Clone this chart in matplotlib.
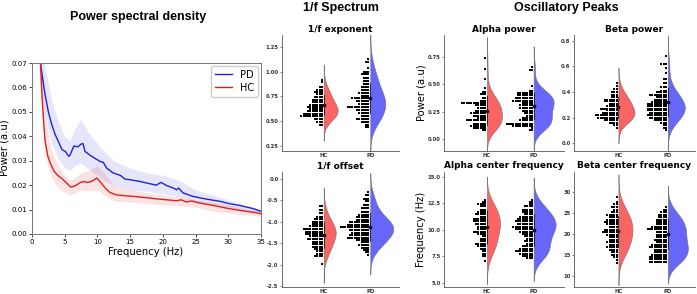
import numpy as np
import matplotlib
matplotlib.use('Agg')
import matplotlib.pyplot as plt

W, H = 697, 294
fig = plt.figure(figsize=(6.97, 2.94), dpi=100)

def px_axes(x0, y0, x1, y1):
    return fig.add_axes([x0 / W, 1 - y1 / H, (x1 - x0) / W, (y1 - y0) / H])

# ---------------- PSD data ----------------
pd_freq = [1.0, 1.2, 1.5, 2.0, 2.5, 3.0, 3.5, 4.0, 4.6, 5.1, 5.6, 5.8, 6.4, 7.0, 7.5, 7.8, 8.1, 8.9,
           9.6, 10.4, 10.9, 11.4, 12.4, 13.5, 14.2, 15.0, 16.5, 18.0, 19.0, 19.7, 20.6, 21.6, 22.1,
           22.4, 23.1, 24.6, 26.6, 28.7, 30.2, 31.7, 33.8, 35.0]
pd_psd = [0.095, 0.072, 0.066, 0.057, 0.050, 0.045, 0.041, 0.038, 0.0345, 0.0338, 0.0318, 0.0322,
          0.0360, 0.0357, 0.0368, 0.0370, 0.0338, 0.0322, 0.0310, 0.0297, 0.0293, 0.0270, 0.0250,
          0.0240, 0.0225, 0.0222, 0.0215, 0.0206, 0.0200, 0.0211, 0.0198, 0.0188, 0.0181, 0.0188,
          0.0168, 0.0154, 0.0143, 0.0134, 0.0124, 0.0117, 0.0104, 0.0093]
hc_freq = [1.0, 1.3, 1.5, 1.8, 2.0, 2.4, 2.8, 3.3, 3.8, 4.6, 5.3, 5.9, 6.6, 7.4, 7.9, 8.4, 9.1, 9.9,
           10.4, 11.2, 11.9, 12.9, 14.5, 15.5, 17.0, 19.0, 20.6, 22.1, 22.8, 23.6, 24.4, 25.6, 27.7,
           29.7, 31.7, 33.8, 35.0]
hc_psd = [0.090, 0.070, 0.058, 0.045, 0.038, 0.032, 0.029, 0.026, 0.0243, 0.0226, 0.0209, 0.0192,
          0.0197, 0.0211, 0.0215, 0.0211, 0.0215, 0.0229, 0.0215, 0.0188, 0.0170, 0.0160, 0.0156,
          0.0154, 0.0150, 0.0144, 0.0140, 0.0136, 0.0140, 0.0131, 0.0135, 0.0127, 0.0117, 0.0106,
          0.0097, 0.0089, 0.0083]
band_freq = [1, 1.5, 2, 3, 4, 5, 5.8, 6.5, 7.5, 8.5, 10, 11, 12.5, 15, 17.5, 20, 22.5, 25, 27.5, 30, 32.5, 35]
pd_upper = [0.10, 0.08, 0.068, 0.055, 0.046, 0.040, 0.038, 0.043, 0.047, 0.042, 0.037, 0.034, 0.030,
            0.027, 0.025, 0.024, 0.022, 0.018, 0.016, 0.014, 0.012, 0.010]
pd_lower = [0.075, 0.058, 0.048, 0.037, 0.031, 0.027, 0.026, 0.028, 0.029, 0.027, 0.024, 0.022, 0.020,
            0.018, 0.0175, 0.0165, 0.015, 0.013, 0.012, 0.011, 0.0095, 0.0085]
hc_upper = [0.09, 0.065, 0.048, 0.034, 0.028, 0.024, 0.022, 0.023, 0.025, 0.026, 0.028, 0.025, 0.020,
            0.018, 0.017, 0.016, 0.015, 0.014, 0.013, 0.012, 0.0105, 0.0093]
hc_lower = [0.07, 0.05, 0.032, 0.023, 0.019, 0.017, 0.016, 0.0165, 0.018, 0.0175, 0.018, 0.016, 0.0135,
            0.013, 0.0125, 0.012, 0.0115, 0.011, 0.0095, 0.0085, 0.0078, 0.0073]

# ---------------- raincloud data (binned dots: value rows, dot counts) ----------------
groups = ['HC', 'PD']

exp_hc_v = [0.46, 0.49, 0.52, 0.55, 0.57, 0.60, 0.62, 0.64, 0.66, 0.69, 0.71, 0.74, 0.77, 0.79, 0.81, 0.84, 0.89, 0.91]
exp_hc_n = [2, 3, 4, 10, 9, 7, 6, 7, 6, 5, 5, 4, 3, 4, 3, 2, 1, 1]
exp_pd_v = [0.44, 0.46, 0.49, 0.52, 0.55, 0.58, 0.61, 0.64, 0.67, 0.70, 0.73, 0.75, 0.78, 0.81, 0.84, 0.87, 0.90,
            0.93, 0.97, 1.00, 1.04, 1.10, 1.13]
exp_pd_n = [2, 2, 4, 6, 4, 5, 6, 10, 5, 6, 8, 4, 5, 4, 4, 3, 3, 3, 4, 3, 1, 2, 1]

off_hc_v = [-0.64, -0.73, -0.80, -0.88, -0.94, -1.00, -1.06, -1.11, -1.17, -1.23, -1.29, -1.34, -1.40, -1.46,
            -1.52, -1.58, -1.63, -1.69, -1.75, -1.80, -1.99]
off_hc_n = [2, 2, 2, 3, 4, 5, 5, 6, 9, 8, 8, 6, 7, 5, 5, 5, 4, 3, 3, 4, 1]
off_pd_v = [-0.31, -0.38, -0.46, -0.52, -0.61, -0.69, -0.77, -0.84, -0.90, -0.96, -1.01, -1.07, -1.13, -1.19,
            -1.25, -1.30, -1.37, -1.42, -1.48, -1.53, -1.60, -1.65, -1.71, -1.78]
off_pd_n = [1, 2, 3, 2, 3, 4, 4, 5, 6, 6, 9, 10, 13, 9, 8, 9, 10, 6, 4, 5, 4, 3, 2, 1]

alp_hc_v = [0.08, 0.10, 0.12, 0.14, 0.17, 0.19, 0.21, 0.24, 0.26, 0.28, 0.31, 0.33, 0.35, 0.37, 0.41, 0.43,
            0.47, 0.55, 0.64, 0.74]
alp_hc_n = [2, 6, 7, 6, 9, 4, 6, 7, 5, 4, 5, 11, 3, 2, 3, 2, 1, 1, 1, 1]
alp_pd_v = [0.08, 0.10, 0.12, 0.14, 0.17, 0.19, 0.21, 0.24, 0.26, 0.28, 0.31, 0.33, 0.35, 0.37, 0.40, 0.42,
            0.44, 0.48, 0.63, 0.66]
alp_pd_n = [2, 1, 9, 12, 6, 5, 3, 4, 5, 6, 6, 5, 9, 8, 7, 7, 2, 1, 2, 1]

bet_hc_v = [0.12, 0.14, 0.16, 0.18, 0.20, 0.22, 0.24, 0.26, 0.27, 0.29, 0.31, 0.33, 0.34, 0.36, 0.38, 0.40,
            0.42, 0.45, 0.47]
bet_hc_n = [1, 2, 4, 6, 9, 10, 7, 5, 8, 5, 4, 6, 6, 3, 3, 3, 2, 1, 1]
bet_pd_v = [0.10, 0.12, 0.14, 0.16, 0.18, 0.20, 0.22, 0.24, 0.26, 0.27, 0.29, 0.31, 0.32, 0.34, 0.36, 0.38,
            0.40, 0.41, 0.44, 0.47, 0.50, 0.55, 0.59, 0.62, 0.68]
bet_pd_n = [1, 2, 2, 3, 6, 8, 9, 8, 9, 9, 9, 9, 7, 6, 5, 8, 5, 3, 3, 2, 2, 1, 1, 3, 1]

acf_hc_v = [7.1, 7.5, 7.7, 8.0, 8.2, 8.5, 8.7, 8.9, 9.1, 9.4, 9.6, 9.8, 10.1, 10.3, 10.5, 10.8, 11.0, 11.2,
            11.5, 11.7, 11.9, 12.2, 12.4, 12.6, 12.8]
acf_hc_n = [1, 2, 2, 2, 3, 4, 5, 3, 3, 2, 4, 6, 4, 4, 5, 6, 6, 3, 5, 4, 3, 3, 4, 2, 1]
acf_pd_v = [7.3, 7.5, 7.7, 8.0, 8.2, 8.5, 8.7, 8.9, 9.1, 9.4, 9.6, 9.8, 10.1, 10.3, 10.5, 10.8, 11.0, 11.2,
            11.5, 11.7, 11.9, 12.2, 12.4, 12.6, 12.8]
acf_pd_n = [3, 5, 6, 8, 6, 5, 3, 4, 3, 4, 5, 6, 8, 9, 7, 8, 7, 6, 4, 5, 5, 4, 2, 2, 1]

bcf_hc_v = [13.2, 13.8, 14.6, 15.1, 15.8, 16.3, 17.0, 17.5, 18.1, 18.7, 19.3, 19.9, 20.5, 21.1, 21.7, 22.3,
            22.9, 23.4, 24.1, 24.6, 25.3, 25.8, 26.4, 27.1, 27.6, 28.8]
bcf_hc_n = [1, 1, 2, 3, 3, 4, 5, 4, 5, 4, 4, 5, 7, 6, 4, 5, 6, 5, 4, 5, 3, 2, 3, 2, 1, 1]
bcf_pd_v = [13.4, 14.0, 14.6, 15.1, 15.8, 16.3, 17.0, 17.5, 18.1, 18.7, 19.3, 19.9, 20.5, 21.3, 21.7, 22.3,
            22.9, 23.4, 24.1, 24.6, 25.3, 25.8, 26.4]
bcf_pd_n = [8, 8, 8, 7, 6, 6, 8, 7, 5, 6, 5, 5, 5, 9, 7, 5, 5, 5, 4, 4, 3, 2, 1]

# group means and standard deviations (HC, PD)
exp_mean, exp_sd = [0.66, 0.73], [0.10, 0.15]
off_mean, off_sd = [-1.30, -1.12], [0.30, 0.32]
alp_mean, alp_sd = [0.26, 0.30], [0.13, 0.12]
bet_mean, bet_sd = [0.28, 0.32], [0.08, 0.11]
acf_mean, acf_sd = [10.3, 10.0], [1.6, 1.5]
bcf_mean, bcf_sd = [20.7, 20.0], [3.7, 3.6]

# ---------------- styles ----------------
RED, BLUE = '#fa6464', '#6666f8'
LINE_BLUE, LINE_RED = '#2020dd', '#dd2020'

# ---------------- PSD panel ----------------
ax = px_axes(32, 63, 261, 234)
ax.fill_between(band_freq, pd_lower, pd_upper, color=LINE_BLUE, alpha=0.11, lw=0)
ax.fill_between(band_freq, hc_lower, hc_upper, color=LINE_RED, alpha=0.12, lw=0)
ax.plot(pd_freq, pd_psd, color=LINE_BLUE, lw=1.0, label='PD')
ax.plot(hc_freq, hc_psd, color=LINE_RED, lw=1.0, label='HC')
ax.set_xlim(0, 35)
ax.set_ylim(0, 0.07)
ax.set_xticks(range(0, 36, 5))
ax.set_yticks(np.arange(0, 0.0701, 0.01))
ax.set_yticklabels([f'{v:.2f}' for v in np.arange(0, 0.0701, 0.01)])
ax.tick_params(labelsize=5, length=2, width=0.5, pad=1.5)
for s in ax.spines.values():
    s.set_color('#777777')
    s.set_linewidth(0.7)
ax.legend(loc='upper right', fontsize=7, handlelength=1.8, borderpad=0.4, labelspacing=0.3,
          borderaxespad=0.3, framealpha=1, edgecolor='#cccccc', fancybox=True)
fig.text(146 / W, 1 - 252 / H, 'Frequency (Hz)', ha='center', va='center', fontsize=7.2)
fig.text(5 / W, 1 - 148 / H, 'Power (a.u)', ha='center', va='center', fontsize=7.2, rotation=90)
fig.text(138 / W, 1 - 17 / H, 'Power spectral density', ha='center', va='center', fontsize=9,
         fontweight='bold', family='Liberation Sans')
fig.text(341 / W, 1 - 8 / H, '1/f Spectrum', ha='center', va='center', fontsize=9,
         fontweight='bold', family='Liberation Sans')
fig.text(566 / W, 1 - 8 / H, 'Oscillatory Peaks', ha='center', va='center', fontsize=9,
         fontweight='bold', family='Liberation Sans')


def raincloud(box, xlim, ylim, vals, counts, means, sds, widths_px, title, yticks, ylabels,
              ylabel=None, ylabel_x=None):
    x0, y0, x1, y1 = box
    ax = px_axes(x0, y0, x1, y1)
    ax.set_xlim(*xlim)
    ax.set_ylim(*ylim)
    ppu = (x1 - x0) / (xlim[1] - xlim[0])
    colors = [RED, BLUE]
    mcolors = ['#2a1010', '#101040']
    for i in range(2):
        data = np.repeat(np.array(vals[i], float), counts[i])
        bw = data.std(ddof=1) * len(data) ** (-0.2) * 1.45
        yy = np.linspace(data.min() - 2.6 * bw, data.max() + 2.6 * bw, 400)
        dens = np.exp(-0.5 * ((yy[:, None] - data[None, :]) / bw) ** 2).sum(1)
        w = dens / dens.max() * widths_px[i] / ppu
        ax.fill_betweenx(yy, i, i + w, facecolor=colors[i], edgecolor='#777777', lw=0.45, zorder=2)
        dx = 2.3 / ppu
        for v, c in zip(vals[i], counts[i]):
            xs = i - 1.8 / ppu - dx * np.arange(c)
            ax.scatter(xs, np.full(c, v), s=0.7, marker='s', c='k', lw=0, zorder=3)
        ax.plot([i, i], [means[i] - sds[i], means[i] + sds[i]], color=mcolors[i], lw=0.6, zorder=4)
        ax.plot([i], [means[i]], 'o', ms=2.8, color=mcolors[i], mew=0, zorder=5)
    ax.set_xticks([0, 1])
    ax.set_xticklabels(groups, fontsize=3.8, fontweight='bold', color='#333333')
    ax.set_yticks(yticks)
    ax.set_yticklabels(ylabels, fontsize=3.8, fontweight='bold', color='#333333')
    ax.tick_params(axis='y', length=1.5, width=0.5, pad=1, color='#555555')
    ax.tick_params(axis='x', length=0, pad=1.5)
    for s in ['top', 'right']:
        ax.spines[s].set_visible(False)
    for s in ['left', 'bottom']:
        ax.spines[s].set_color('#555555')
        ax.spines[s].set_linewidth(0.6)
    ax.patch.set_alpha(0)
    ty = y0 - 6
    fig.text((x0 + x1) / 2 / W, 1 - ty / H, title, ha='center', va='center', fontsize=6.5,
             fontweight='bold')
    if ylabel:
        fig.text(ylabel_x / W, 1 - (y0 + y1) / 2 / H, ylabel, ha='center', va='center',
                 fontsize=7.2, rotation=90)
    return ax


TOP = (35, 151)
BOT = (172, 287)

raincloud((282, TOP[0], 399, TOP[1]), (-0.895, 1.616), (0.195, 1.37),
          [exp_hc_v, exp_pd_v], [exp_hc_n, exp_pd_n], exp_mean, exp_sd, [14, 15],
          '1/f exponent', [0.25, 0.5, 0.75, 1.0, 1.25], ['0.25', '0.50', '0.75', '1.00', '1.25'])
raincloud((282, BOT[0], 399, BOT[1]), (-0.895, 1.616), (-2.52, 0.16),
          [off_hc_v, off_pd_v], [off_hc_n, off_pd_n], off_mean, off_sd, [12, 23],
          '1/f offset', [-2.5, -2.0, -1.5, -1.0, -0.5, 0.0], ['-2.5', '-2.0', '-1.5', '-1.0', '-0.5', '0.0'])
raincloud((444, TOP[0], 564, TOP[1]), (-0.92, 1.65), (-0.11, 0.95),
          [alp_hc_v, alp_pd_v], [alp_hc_n, alp_pd_n], alp_mean, alp_sd, [15, 20],
          'Alpha power', [0, 0.25, 0.5, 0.75], ['0.00', '0.25', '0.50', '0.75'],
          ylabel='Power (a.u)', ylabel_x=421)
raincloud((444, BOT[0], 564, BOT[1]), (-0.92, 1.65), (4.6, 15.45),
          [acf_hc_v, acf_pd_v], [acf_hc_n, acf_pd_n], acf_mean, acf_sd, [13, 22],
          'Alpha center frequency', [5, 7.5, 10, 12.5, 15], ['5.0', '7.5', '10.0', '12.5', '15.0'],
          ylabel='Frequency (Hz)', ylabel_x=421)
raincloud((574, TOP[0], 695, TOP[1]), (-0.9, 1.55), (-0.06, 0.845),
          [bet_hc_v, bet_pd_v], [bet_hc_n, bet_pd_n], bet_mean, bet_sd, [16, 17],
          'Beta power', [0, 0.2, 0.4, 0.6, 0.8], ['0.0', '0.2', '0.4', '0.6', '0.8'])
raincloud((574, BOT[0], 695, BOT[1]), (-0.9, 1.55), (7.4, 34.8),
          [bcf_hc_v, bcf_pd_v], [bcf_hc_n, bcf_pd_n], bcf_mean, bcf_sd, [14, 20],
          'Beta center frequency', [10, 15, 20, 25, 30], ['10', '15', '20', '25', '30'])

fig.savefig('out.png', dpi=100)
